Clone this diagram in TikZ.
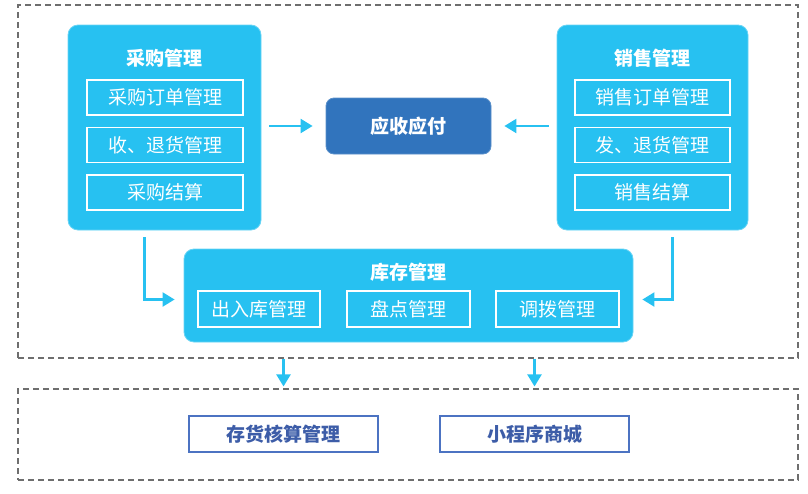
\documentclass[tikz,border=0pt]{standalone}
\usepackage{fontspec}
\setmainfont{Noto Sans CJK SC}
\usetikzlibrary{arrows.meta}

\definecolor{skyblue}{HTML}{27C1F1}
\definecolor{deepblue}{HTML}{3174BD}
\definecolor{lineblue}{HTML}{4C73C2}
\definecolor{textblue}{HTML}{3D5DA8}
\definecolor{dashgray}{HTML}{6E6E6E}

\begin{document}
\begin{tikzpicture}[x=1pt,y=-1pt,
    bigbox/.style={fill=skyblue,draw=skyblue!70!white,line width=0.8pt,rounded corners=10pt,inner sep=0pt},
    subbox/.style={draw=white,line width=1.4pt,inner sep=0pt,minimum height=35pt,text=white,font=\fontsize{19}{21}\selectfont},
    title/.style={text=white,font=\fontsize{19}{21}\selectfont\bfseries},
    dashbox/.style={draw=dashgray,line width=1.1pt,dash pattern=on 6pt off 4pt,inner sep=0pt},
    endbox/.style={draw=lineblue,line width=1.4pt,fill=white,inner sep=0pt,minimum width=189pt,minimum height=36pt,text=textblue,font=\fontsize{19}{21}\selectfont\bfseries},
    arr/.style={draw=skyblue,line width=2.2pt,-{Triangle[width=14pt,length=12pt]}}]
    \useasboundingbox (0,0) rectangle (808,493);
    % dashed frames
    \node[dashbox,minimum width=780pt,minimum height=353pt] (upper) at (408,181.5) {};
    \node[dashbox,minimum width=780pt,minimum height=91pt] (lower) at (408,434.5) {};
    % purchase
    \node[bigbox,minimum width=193pt,minimum height=205pt] (cg) at (164.5,127.5) {};
    \node[title] (cgt) at (164.5,58) {采购管理};
    \node[subbox,minimum width=156pt] (cg1) at (165,97.5) {采购订单管理};
    \node[subbox,minimum width=156pt] (cg2) at (165,145) {收、退货管理};
    \node[subbox,minimum width=156pt] (cg3) at (165,192.5) {采购结算};
    % sales
    \node[bigbox,minimum width=191pt,minimum height=205pt] (xs) at (652.5,127.5) {};
    \node[title] (xst) at (652.5,58) {销售管理};
    \node[subbox,minimum width=155pt] (xs1) at (652.5,97.5) {销售订单管理};
    \node[subbox,minimum width=155pt] (xs2) at (652.5,145) {发、退货管理};
    \node[subbox,minimum width=155pt] (xs3) at (652.5,192.5) {销售结算};
    % receivable / payable
    \node[fill=deepblue,draw=deepblue!80!white,line width=0.8pt,rounded corners=8pt,inner sep=0pt,
          minimum width=165pt,minimum height=56pt,text=white,font=\fontsize{19}{21}\selectfont\bfseries] (ys) at (408.5,126) {应收应付};
    % inventory
    \node[bigbox,minimum width=449pt,minimum height=93pt] (kc) at (408.5,295.5) {};
    \node[title] (kct) at (408.5,272) {库存管理};
    \node[subbox,minimum width=122pt,minimum height=36pt] (kc1) at (259,309) {出入库管理};
    \node[subbox,minimum width=123pt,minimum height=36pt] (kc2) at (408.5,309) {盘点管理};
    \node[subbox,minimum width=123pt,minimum height=36pt] (kc3) at (557.5,309) {调拨管理};
    % bottom
    \node[endbox] (ch) at (283.5,434) {存货核算管理};
    \node[endbox] (xc) at (534.5,434) {小程序商城};

    \draw[arr,shorten <=8pt,shorten >=13pt] (cg.east |- ys.west) -- (ys.west);
    \draw[arr,shorten <=8pt,shorten >=13pt] (xs.west |- ys.east) -- (ys.east);
    \draw[arr] ([xshift=-20pt,yshift=-7pt]cg.south) |- ([xshift=-9pt,yshift=-4pt]kc.west);
    \draw[arr] ([xshift=20pt,yshift=-7pt]xs.south) |- ([xshift=9pt,yshift=-4pt]kc.east);
    \draw[arr,shorten >=2pt] (ch.north |- upper.south) -- (ch.north |- lower.north);
    \draw[arr,shorten >=2pt] (xc.north |- upper.south) -- (xc.north |- lower.north);
\end{tikzpicture}
\end{document}
